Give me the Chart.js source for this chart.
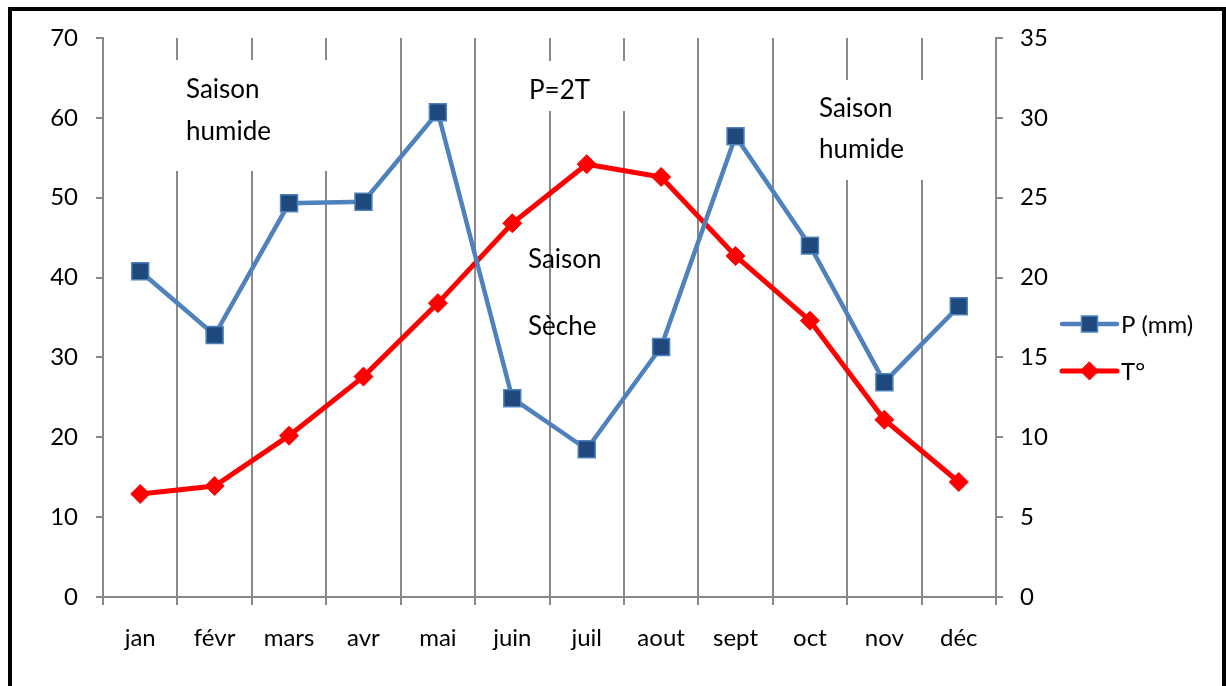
<!DOCTYPE html>
<html>
<head>
<meta charset="utf-8">
<script src="https://cdn.jsdelivr.net/npm/chart.js@4/dist/chart.umd.min.js"></script>
<style>
  html, body { margin: 0; padding: 0; background: #fff; }
  #wrap { position: relative; width: 1226px; height: 686px; overflow: hidden; }
  #frame { position: absolute; left: 8px; top: 7px; width: 1210px; height: 700px;
           border: 4px solid #000; border-bottom: none; pointer-events: none; }
  canvas { position: absolute; left: 0; top: 0; }
</style>
</head>
<body>
<div id="wrap">
  <canvas id="c" width="1226" height="686"></canvas>
  <div id="frame"></div>
</div>
<script>
// ---- data ----
const months = ['jan', 'févr', 'mars', 'avr', 'mai', 'juin', 'juil', 'aout', 'sept', 'oct', 'nov', 'déc'];
const precipitation = [40.8, 32.8, 49.3, 49.5, 60.7, 24.9, 18.5, 31.3, 57.7, 44.0, 26.9, 36.4];
const temperature = [6.45, 6.95, 10.1, 13.8, 18.4, 23.4, 27.1, 26.3, 21.35, 17.3, 11.1, 7.2];
const leftTicks = [0, 10, 20, 30, 40, 50, 60, 70];
const rightTicks = [0, 5, 10, 15, 20, 25, 30, 35];
const seriesNames = ['P (mm)', 'T°'];
const noteLines = [['Saison', 'humide'], ['P=2T'], ['Saison', 'Sèche'], ['Saison', 'humide']];

// ---- styles ----
const FONT = 'Lato, "Open Sans", sans-serif';
const GRID = '#898989';
const BLUE = '#4F81BD';
const NAVY = '#1F497D';
const RED = '#FF0000';

// annotation layout (pixel offsets relative to chart area left/top)
const notes = [
  { lines: noteLines[0], x: 83, base: [60, 102], box: [67, 22, 165, 111] },
  { lines: noteLines[1], x: 426, base: [61], box: [412, 23, 118, 50] },
  { lines: noteLines[2], x: 425, base: [230, 297], box: null },
  { lines: noteLines[3], x: 716, base: [79, 120], box: [707, 42, 125, 100] }
];

const annotationPlugin = {
  id: 'notes',
  beforeDatasetsDraw(chart) {
    const { ctx, chartArea } = chart;
    ctx.save();
    notes.forEach(n => {
      if (n.box) {
        ctx.fillStyle = '#fff';
        ctx.fillRect(chartArea.left + n.box[0], chartArea.top + n.box[1], n.box[2], n.box[3]);
      }
    });
    ctx.fillStyle = '#000';
    ctx.font = '26px ' + FONT;
    ctx.textBaseline = 'alphabetic';
    ctx.textAlign = 'left';
    notes.forEach(n => {
      n.lines.forEach((t, i) => ctx.fillText(t, chartArea.left + n.x, chartArea.top + n.base[i]));
    });
    ctx.restore();
  }
};

const legendPlugin = {
  id: 'customLegend',
  afterDraw(chart) {
    const { ctx, chartArea } = chart;
    const x0 = chartArea.right + 66, x1 = x0 + 55, mid = (x0 + x1) / 2;
    const ys = [chartArea.top + 286, chartArea.top + 333];
    ctx.save();
    chart.data.datasets.forEach((ds, i) => {
      const y = ys[i];
      ctx.strokeStyle = ds.borderColor;
      ctx.lineWidth = ds.borderWidth;
      ctx.lineCap = 'round';
      ctx.beginPath(); ctx.moveTo(x0, y); ctx.lineTo(x1, y); ctx.stroke();
      ctx.fillStyle = ds.pointBackgroundColor;
      ctx.strokeStyle = ds.pointBorderColor;
      ctx.lineWidth = ds.pointBorderWidth;
      ctx.beginPath();
      if (ds.pointStyle === 'rect') {
        const s = 8;
        ctx.rect(mid - s, y - s, 2 * s, 2 * s);
      } else {
        const r = 9;
        ctx.moveTo(mid, y - r); ctx.lineTo(mid + r, y); ctx.lineTo(mid, y + r); ctx.lineTo(mid - r, y); ctx.closePath();
      }
      ctx.fill(); ctx.stroke();
      ctx.fillStyle = '#000';
      ctx.font = '24px ' + FONT;
      ctx.textBaseline = 'middle';
      ctx.fillText(ds.label, x1 + 4, y + 1);
    });
    ctx.restore();
  }
};

new Chart(document.getElementById('c'), {
  type: 'line',
  data: {
    labels: months,
    datasets: [
      {
        label: seriesNames[0], data: precipitation, yAxisID: 'y',
        borderColor: BLUE, borderWidth: 4.5, tension: 0,
        pointStyle: 'rect', pointRadius: 12, pointHoverRadius: 12,
        pointBackgroundColor: NAVY, pointBorderColor: BLUE, pointBorderWidth: 1.5
      },
      {
        label: seriesNames[1], data: temperature, yAxisID: 'y2',
        borderColor: RED, borderWidth: 5, tension: 0,
        pointStyle: 'rectRot', pointRadius: 9.5, pointHoverRadius: 9.5,
        pointBackgroundColor: RED, pointBorderColor: RED, pointBorderWidth: 1
      }
    ]
  },
  options: {
    responsive: false,
    animation: false,
    events: [],
    layout: { padding: { top: 38, left: 0, right: 0, bottom: 0 } },
    plugins: { legend: { display: false }, tooltip: { enabled: false } },
    scales: {
      x: {
        offset: true,
        grid: { offset: true, color: GRID, lineWidth: 2, tickLength: 8, tickColor: GRID },
        border: { display: true, color: GRID, width: 2 },
        ticks: { color: '#000', font: { family: FONT, size: 24 }, padding: 19, maxRotation: 0, autoSkip: false },
        afterFit(s) { s.height = 89; }
      },
      y: {
        position: 'left', min: 0, max: 70,
        afterBuildTicks(s) { s.ticks = leftTicks.map(v => ({ value: v })); },
        grid: { drawOnChartArea: false, color: GRID, lineWidth: 2, tickLength: 7, tickColor: GRID },
        border: { display: true, color: GRID, width: 2 },
        ticks: { color: '#000', font: { family: FONT, size: 24 }, padding: 18 },
        afterFit(s) { s.width = 103; }
      },
      y2: {
        position: 'right', min: 0, max: 35,
        afterBuildTicks(s) { s.ticks = rightTicks.map(v => ({ value: v })); },
        grid: { drawOnChartArea: false, color: GRID, lineWidth: 2, tickLength: 7, tickColor: GRID },
        border: { display: true, color: GRID, width: 2 },
        ticks: { color: '#000', font: { family: FONT, size: 24 }, padding: 17 },
        afterFit(s) { s.width = 230; }
      }
    }
  },
  plugins: [annotationPlugin, legendPlugin]
});
</script>
</body>
</html>
